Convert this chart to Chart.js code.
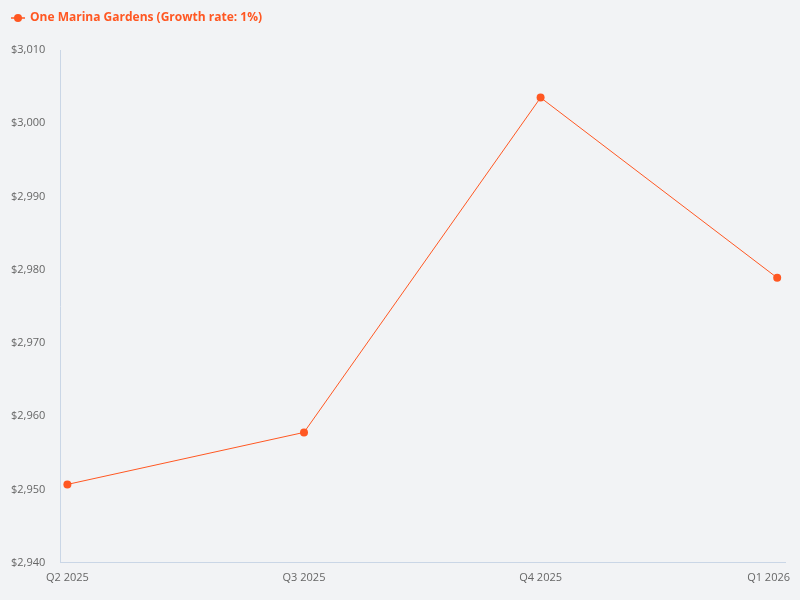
<!DOCTYPE html>
<html>
<head>
<meta charset="utf-8">
<script src="https://cdn.jsdelivr.net/npm/chart.js@4/dist/chart.umd.min.js"></script>
<style>
  html, body { margin: 0; padding: 0; background: #f2f3f5; }
  #wrap { width: 800px; height: 600px; }
</style>
</head>
<body>
<div id="wrap"><canvas id="priceChart"></canvas></div>
<script>
const quarters = ["Q2 2025", "Q3 2025", "Q4 2025", "Q1 2026"];
const prices = [2950.7, 2957.8, 3003.5, 2978.9];
const seriesName = "One Marina Gardens (Growth rate: 1%)";
const yTicks = [2940, 2950, 2960, 2970, 2980, 2990, 3000, 3010];

const orange = "#ff5722";

// legend marker: short line with a dot
const marker = document.createElement("canvas");
marker.width = 14;
marker.height = 10;
(function () {
  const c = marker.getContext("2d");
  c.strokeStyle = orange;
  c.lineWidth = 1.5;
  c.beginPath();
  c.moveTo(0, 5);
  c.lineTo(14, 5);
  c.stroke();
  c.fillStyle = orange;
  c.beginPath();
  c.arc(7, 5, 4, 0, Math.PI * 2);
  c.fill();
})();

// extra room under the legend
const legendSpace = {
  id: "legendSpace",
  beforeInit(chart) {
    const fit = chart.legend.fit;
    chart.legend.fit = function () {
      fit.bind(chart.legend)();
      this.height += 16;
    };
  },
};

// keep the last x label inside the canvas
const lastLabelFit = {
  id: "lastLabelFit",
  beforeDraw(chart) {
    const items = chart.scales.x.getLabelItems();
    const last = items[items.length - 1];
    if (last && last.options.textAlign !== "right") {
      last.options.textAlign = "right";
      last.options.translation[0] = chart.width - 10;
    }
  },
};

Chart.defaults.font.family = "'Open Sans', 'Noto Sans', sans-serif";
Chart.defaults.color = "#666";

const config = {
  type: "line",
  data: {
    datasets: [
      {
        label: seriesName,
        data: prices.map((p, i) => ({ x: i, y: p })),
        borderColor: orange,
        backgroundColor: orange,
        borderWidth: 1,
        pointRadius: 4,
        pointHoverRadius: 5,
        pointBackgroundColor: orange,
        pointBorderWidth: 0,
        tension: 0,
        fill: false,
      },
    ],
  },
  options: {
    responsive: true,
    maintainAspectRatio: false,
    animation: false,
    layout: { padding: { left: 0, right: 15, top: 0, bottom: 16 } },
    plugins: {
      legend: {
        align: "start",
        labels: {
          usePointStyle: true,
          pointStyle: marker,
          color: orange,
          font: { size: 12, weight: "bold" },
          padding: 12,
        },
      },
      tooltip: { enabled: false },
    },
    scales: {
      x: {
        type: "linear",
        min: -0.03,
        max: 3.033,
        grid: { display: false },
        border: { display: true, color: "#cad6e6" },
        afterBuildTicks: (s) => {
          s.ticks = quarters.map((q, i) => ({ value: i }));
        },
        ticks: {
          autoSkip: false,
          maxRotation: 0,
          padding: 0,
          font: { size: 11 },
          callback: (v) => quarters[v] ?? "",
        },
      },
      y: {
        min: yTicks[0],
        max: yTicks[yTicks.length - 1],
        grid: { display: false },
        border: { display: true, color: "#cad6e6" },
        afterBuildTicks: (s) => {
          s.ticks = yTicks.map((v) => ({ value: v }));
        },
        afterFit: (s) => {
          s.width += 4;
        },
        ticks: {
          padding: 7,
          font: { size: 11 },
          callback: (v) => "$" + v.toLocaleString("en-US"),
        },
      },
    },
  },
  plugins: [legendSpace, lastLabelFit],
};

const priceChart = new Chart(document.getElementById("priceChart"), config);
</script>
</body>
</html>
